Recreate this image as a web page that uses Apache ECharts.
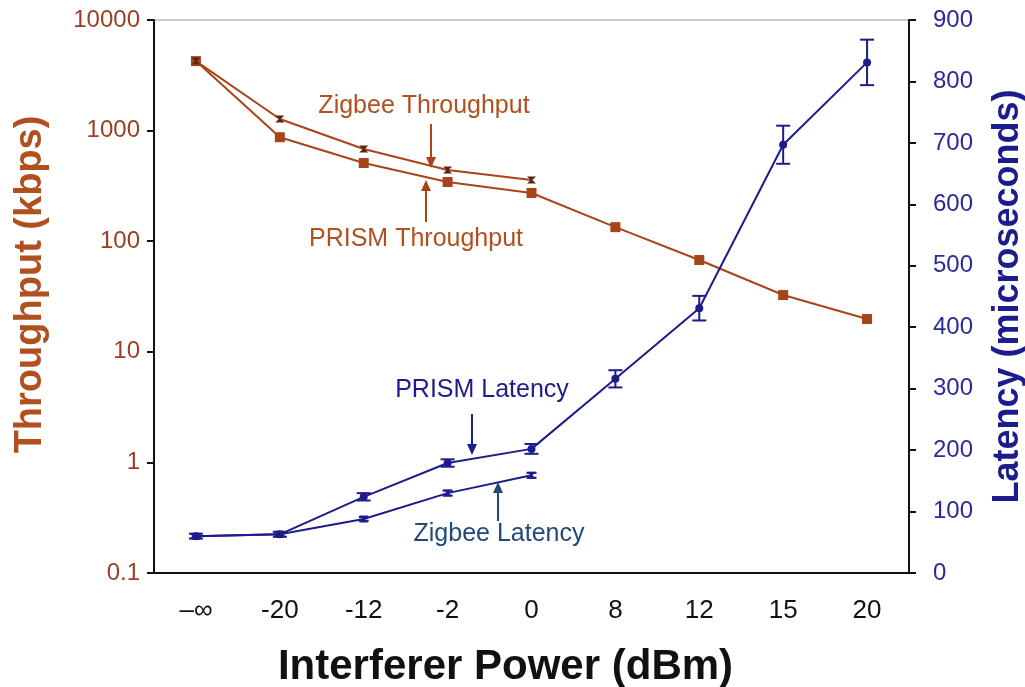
<!DOCTYPE html>
<html>
<head>
<meta charset="utf-8">
<script src="https://cdn.jsdelivr.net/npm/echarts@6/dist/echarts.min.js"></script>
<style>
html,body{margin:0;padding:0;background:#fff;}
#chart{width:1025px;height:687px;}
</style>
</head>
<body>
<div id="chart"></div>
<script>
// ---- data ----
const categories = ['\u2013\u221E', '-20', '-12', '-2', '0', '8', '12', '15', '20'];
const prismThroughput = [4250, 871, 509, 343, 273, 134, 67.6, 32.6, 19.8];
const zigbeeThroughput = [4250, 1273, 682, 440, 357];
const prismLatency = [60, 63, 124, 179, 202, 316, 431, 697, 831];
const prismLatencyErr = [4, 4, 6, 6, 8, 14, 20, 31, 37];
const zigbeeLatency = [60, 63, 88, 130, 159];
const zigbeeLatencyErr = [3, 3, 3, 4, 4];
const leftTickLabels = ['0.1', '1', '10', '100', '1000', '10000'];
const rightTickMax = 900;

// ---- styles ----
const BROWN = '#a8441a';
const BROWN_TXT = '#b0501f';
const NAVY = '#1c1c8c';
const TEAL = '#1f4a78';
const FONT = 'Liberation Sans, Arial, Helvetica, sans-serif';

const chart = echarts.init(document.getElementById('chart'));

function errRender(params, api) {
  const lo = api.coord([api.value(0), api.value(1)]);
  const hi = api.coord([api.value(0), api.value(2)]);
  const w = api.value(3);
  const st = { stroke: NAVY, lineWidth: 2 };
  return {
    type: 'group',
    children: [
      { type: 'line', shape: { x1: lo[0], y1: lo[1], x2: hi[0], y2: hi[1] }, style: st },
      { type: 'line', shape: { x1: lo[0] - w, y1: lo[1], x2: lo[0] + w, y2: lo[1] }, style: st },
      { type: 'line', shape: { x1: hi[0] - w, y1: hi[1], x2: hi[0] + w, y2: hi[1] }, style: st }
    ]
  };
}

const prismErrData = prismLatency.map((v, i) => [i, v - prismLatencyErr[i], v + prismLatencyErr[i], 7]);
const zigbeeErrData = zigbeeLatency.map((v, i) => [i, v - zigbeeLatencyErr[i], v + zigbeeLatencyErr[i], 5]);

function arrow(x, yTail, yTip, color) {
  const dir = yTip > yTail ? 1 : -1;
  const head = 11;
  return [
    { type: 'line', shape: { x1: x, y1: yTail, x2: x, y2: yTip - dir * head }, style: { stroke: color, lineWidth: 2 } },
    { type: 'polygon', shape: { points: [[x - 5, yTip - dir * head], [x + 5, yTip - dir * head], [x, yTip]] }, style: { fill: color } }
  ];
}
function label(text, cx, cy, color) {
  return { type: 'text', x: cx, y: cy, style: { text: text, fill: color, font: '25px ' + FONT, align: 'center', verticalAlign: 'middle' } };
}

const option = {
  backgroundColor: '#fff',
  animation: false,
  grid: {
    left: 154, right: 116, top: 20, bottom: 114,
    containLabel: false, outerBoundsMode: 'none',
    show: true, borderColor: '#9a9a9a', borderWidth: 1
  },
  xAxis: {
    type: 'category',
    data: categories,
    boundaryGap: true,
    name: 'Interferer Power (dBm)',
    nameLocation: 'middle',
    nameGap: 73,
    nameTextStyle: { fontSize: 42, fontWeight: 'bold', color: '#111', fontFamily: FONT, padding: [0, 52, 0, 0] },
    axisLine: { lineStyle: { color: '#111', width: 2 } },
    axisTick: { length: 10, lineStyle: { color: '#111', width: 2 } },
    axisLabel: { color: '#111', fontSize: 26, fontFamily: FONT, margin: 25 },
    splitLine: { show: false }
  },
  yAxis: [
    {
      type: 'log',
      logBase: 10,
      min: 0.1,
      max: 10000,
      splitNumber: 5,
      name: 'Throughput (kbps)',
      nameLocation: 'middle',
      nameGap: 104,
      nameTextStyle: { fontSize: 38, fontWeight: 'bold', color: BROWN_TXT, fontFamily: FONT, padding: [0, 0, 0, 24] },
      axisLine: { show: true, lineStyle: { color: '#111', width: 2 } },
      axisTick: { show: true, length: 7, lineStyle: { color: '#111', width: 2 } },
      axisLabel: {
        color: '#9a3f22', fontSize: 24, fontFamily: FONT, margin: 14,
        formatter: v => leftTickLabels[Math.round(Math.log10(v)) + 1]
      },
      splitLine: { show: false }
    },
    {
      type: 'value',
      min: 0,
      max: rightTickMax,
      interval: 100,
      position: 'right',
      name: 'Latency (microseconds)',
      nameLocation: 'middle',
      nameGap: 81,
      nameTextStyle: { fontSize: 36, fontWeight: 'bold', color: NAVY, fontFamily: FONT },
      axisLine: { show: true, lineStyle: { color: '#111', width: 2 } },
      axisTick: { show: true, length: 7, lineStyle: { color: '#111', width: 2 } },
      axisLabel: { color: '#2a2a9a', fontSize: 24, fontFamily: FONT, margin: 24 },
      splitLine: { show: false }
    }
  ],
  series: [
    {
      name: 'PRISM Throughput', type: 'line', yAxisIndex: 0, data: prismThroughput,
      symbol: 'rect', symbolSize: 10,
      lineStyle: { color: BROWN, width: 2 }, itemStyle: { color: BROWN }, z: 3
    },
    {
      name: 'Zigbee Throughput', type: 'line', yAxisIndex: 0, data: zigbeeThroughput,
      symbol: 'path://M0,0 L10,0 L6,5 L10,10 L0,10 L4,5 Z', symbolSize: [9, 7],
      lineStyle: { color: BROWN, width: 2 }, itemStyle: { color: '#5a2412' }, z: 3
    },
    {
      name: 'PRISM Latency', type: 'line', yAxisIndex: 1, data: prismLatency,
      symbol: 'circle', symbolSize: 8,
      lineStyle: { color: NAVY, width: 2 }, itemStyle: { color: NAVY }, z: 3
    },
    {
      name: 'Zigbee Latency', type: 'line', yAxisIndex: 1, data: zigbeeLatency,
      symbol: 'path://M0,0 L10,0 L6,5 L10,10 L0,10 L4,5 Z', symbolSize: [9, 7],
      lineStyle: { color: NAVY, width: 2 }, itemStyle: { color: NAVY }, z: 3
    },
    {
      name: 'PRISM Latency err', type: 'custom', xAxisIndex: 0, yAxisIndex: 1,
      renderItem: errRender, data: prismErrData, encode: { x: 0, y: [1, 2] }, z: 4
    },
    {
      name: 'Zigbee Latency err', type: 'custom', xAxisIndex: 0, yAxisIndex: 1,
      renderItem: errRender, data: zigbeeErrData, encode: { x: 0, y: [1, 2] }, z: 4
    }
  ],
  graphic: [
    label('Zigbee Throughput', 424, 106, BROWN_TXT),
    ...arrow(431, 124, 168, BROWN),
    label('PRISM Throughput', 416, 239, BROWN_TXT),
    ...arrow(426, 222, 180, BROWN),
    label('PRISM Latency', 482, 390, NAVY),
    ...arrow(472, 414, 455, NAVY),
    label('Zigbee Latency', 499, 534, TEAL),
    ...arrow(498, 521, 482, TEAL)
  ]
};
chart.setOption(option);
</script>
</body>
</html>
